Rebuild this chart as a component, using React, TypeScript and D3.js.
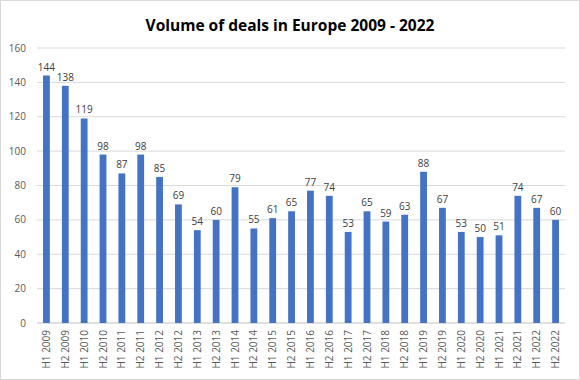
import React from "react";
import * as d3 from "d3";

const categories = ["H1 2009","H2 2009","H1 2010","H2 2010","H1 2011","H2 2011","H1 2012","H2 2012","H1 2013","H2 2013","H1 2014","H2 2014","H1 2015","H2 2015","H1 2016","H2 2016","H1 2017","H2 2017","H1 2018","H2 2018","H1 2019","H2 2019","H1 2020","H2 2020","H1 2021","H2 2021","H1 2022","H2 2022"];
const values = [144,138,119,98,87,98,85,69,54,60,79,55,61,65,77,74,53,65,59,63,88,67,53,50,51,74,67,60];
const yTicks = [0,20,40,60,80,100,120,140,160];
const title = "Volume of deals in Europe 2009 - 2022";

export default function App() {
  const W = 580, H = 380;
  const left = 37, right = 565, top = 48, bottom = 323;
  const x = d3.scaleBand<string>().domain(categories).range([left, right]).paddingInner(0.64).paddingOuter(0.32);
  const y = d3.scaleLinear().domain([0, 160]).range([bottom, top]);
  const font = "'Open Sans', sans-serif";
  return (
    <svg width={W} height={H} style={{ position: "absolute", left: 0, top: 0 }} fontFamily={font}>
      <rect x={0.5} y={0.5} width={W - 1} height={H - 1} fill="#fff" stroke="#d9d9d9" />
      <text x={W / 2} y={31} textAnchor="middle" fontSize={15.5} fontWeight="bold" fill="#000">{title}</text>
      {yTicks.map(t => (
        <g key={t}>
          <line x1={left} x2={right} y1={y(t)} y2={y(t)} stroke={t === 0 ? "#bfbfbf" : "#d9d9d9"} strokeWidth={1} />
          <text x={26} y={y(t) + 3.5} textAnchor="end" fontSize={10} fill="#595959">{t}</text>
        </g>
      ))}
      {categories.map((c, i) => {
        const bx = x(c)!;
        const bw = x.bandwidth();
        const cx = bx + bw / 2;
        return (
          <g key={c}>
            <rect x={bx} y={y(values[i])} width={bw} height={bottom - y(values[i])} fill="#4472c4" />
            <text x={cx} y={y(values[i]) - 5} textAnchor="middle" fontSize={10} fill="#404040">{values[i]}</text>
            <text transform={`translate(${cx + 3.5},${330}) rotate(-90)`} textAnchor="end" fontSize={10} fill="#595959">{c}</text>
          </g>
        );
      })}
    </svg>
  );
}
